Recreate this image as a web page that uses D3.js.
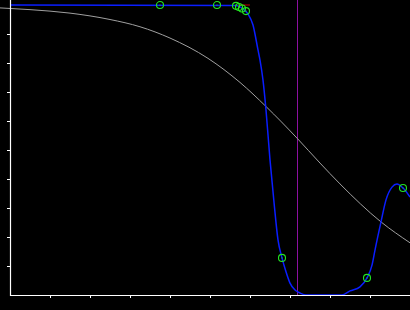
<!doctype html>
<html>
<head>
<meta charset="utf-8">
<title></title>
<style>
    body { margin: 0; background: #000; }
    svg { display: block; background: #000; }
    .tick line { stroke: #fff; }
    .tick text { display: none; }
    .domain { display: none; }
</style>
</head>
<body>
<div id="chart"></div>
<script src="https://cdnjs.cloudflare.com/ajax/libs/d3/7.8.5/d3.min.js"></script>
<script>
// gray reference curve
var refX = [-0.25, 0.5, 1.5, 2.5, 3.25, 4.0, 4.95, 5.75, 6.4, 7.175, 7.75, 8.25, 9.275, 10];
var refY = [0.990, 0.984, 0.972, 0.950, 0.925, 0.886, 0.816, 0.733, 0.65, 0.541, 0.455, 0.383, 0.252, 0.18];

// blue fitted curve
var fitX = [0, 5.65, 5.825, 5.95, 6.075, 6.2, 6.25, 6.325, 6.4, 6.5, 6.6, 6.7, 6.8, 6.9, 7.0, 7.125, 7.25, 7.4, 8.3, 8.5, 8.75, 8.925, 9.05, 9.125, 9.275, 9.4, 9.55, 9.675, 9.825, 10];
var fitY = [1.0, 0.998, 0.986, 0.969, 0.931, 0.845, 0.81, 0.741, 0.638, 0.466, 0.32, 0.19, 0.128, 0.08, 0.041, 0.017, 0.007, 0, 0, 0.014, 0.028, 0.059, 0.103, 0.155, 0.252, 0.328, 0.372, 0.383, 0.369, 0.338];

// sample points
var ptX = [3.75, 5.175, 5.65, 5.725, 5.8, 5.9, 6.8, 8.925, 9.825];
var ptY = [1.0, 1.0, 0.997, 0.993, 0.988, 0.979, 0.128, 0.059, 0.369];

// markers
var redX = [5.7, 6.0];
var redY = 1.0;
var vlineX = 7.175;

var xTicks = [1, 2, 3, 4, 5, 6, 7, 8, 9];
var yTicks = [0.1, 0.2, 0.3, 0.4, 0.5, 0.6, 0.7, 0.8, 0.9];

var width = 410, height = 310;

var svg = d3.select("#chart").append("svg")
    .attr("width", width)
    .attr("height", height);

var x = d3.scaleLinear().domain([0, 10]).range([10, 410]);
var y = d3.scaleLinear().domain([0, 1]).range([295, 5]);

// vertical marker
svg.append("line")
    .attr("x1", x(vlineX)).attr("x2", x(vlineX))
    .attr("y1", 0).attr("y2", y(0))
    .attr("stroke", "#8c10a0")
    .attr("stroke-width", 1)
    .attr("shape-rendering", "crispEdges");

var line = d3.line()
    .x(function(d) { return x(d[0]); })
    .y(function(d) { return y(d[1]); })
    .curve(d3.curveMonotoneX);

// gray curve
var refData = refX.map(function(d, i) { return [d, refY[i]]; });
svg.append("path")
    .datum(refData)
    .attr("fill", "none")
    .attr("stroke", "#a0a0a0")
    .attr("stroke-width", 1)
    .attr("d", line);

// blue curve
var fitData = fitX.map(function(d, i) { return [d, fitY[i]]; });
svg.append("path")
    .datum(fitData)
    .attr("fill", "none")
    .attr("stroke", "#0a1eff")
    .attr("stroke-width", 1.5)
    .attr("d", line);

// red marker
svg.append("line")
    .attr("x1", x(redX[0])).attr("x2", x(redX[1]))
    .attr("y1", y(redY)).attr("y2", y(redY))
    .attr("stroke", "#c00000")
    .attr("stroke-width", 1);

// points
var pts = ptX.map(function(d, i) { return [d, ptY[i]]; });
svg.selectAll("circle.pt")
    .data(pts)
    .enter().append("circle")
    .attr("class", "pt")
    .attr("cx", function(d) { return x(d[0]); })
    .attr("cy", function(d) { return y(d[1]); })
    .attr("r", 3.5)
    .attr("fill", "none")
    .attr("stroke", "#22e622")
    .attr("stroke-width", 1.1);

svg.selectAll("circle.dot")
    .data(pts)
    .enter().append("circle")
    .attr("class", "dot")
    .attr("cx", function(d) { return x(d[0]); })
    .attr("cy", function(d) { return y(d[1]); })
    .attr("r", 0.6)
    .attr("fill", "#22e622");

// axes
svg.append("g")
    .attr("transform", "translate(0," + y(0) + ")")
    .call(d3.axisBottom(x).tickValues(xTicks).tickSize(3).tickSizeOuter(0));

svg.append("g")
    .attr("transform", "translate(" + x(0) + ",0)")
    .call(d3.axisLeft(y).tickValues(yTicks).tickSize(3).tickSizeOuter(0));

svg.append("line")
    .attr("x1", x(0)).attr("x2", x(10))
    .attr("y1", y(0) + 0.5).attr("y2", y(0) + 0.5)
    .attr("stroke", "#fff").attr("stroke-width", 1.2);

svg.append("line")
    .attr("x1", x(0) + 0.5).attr("x2", x(0) + 0.5)
    .attr("y1", 0).attr("y2", y(0) + 1)
    .attr("stroke", "#fff").attr("stroke-width", 1.2);
</script>
</body>
</html>
